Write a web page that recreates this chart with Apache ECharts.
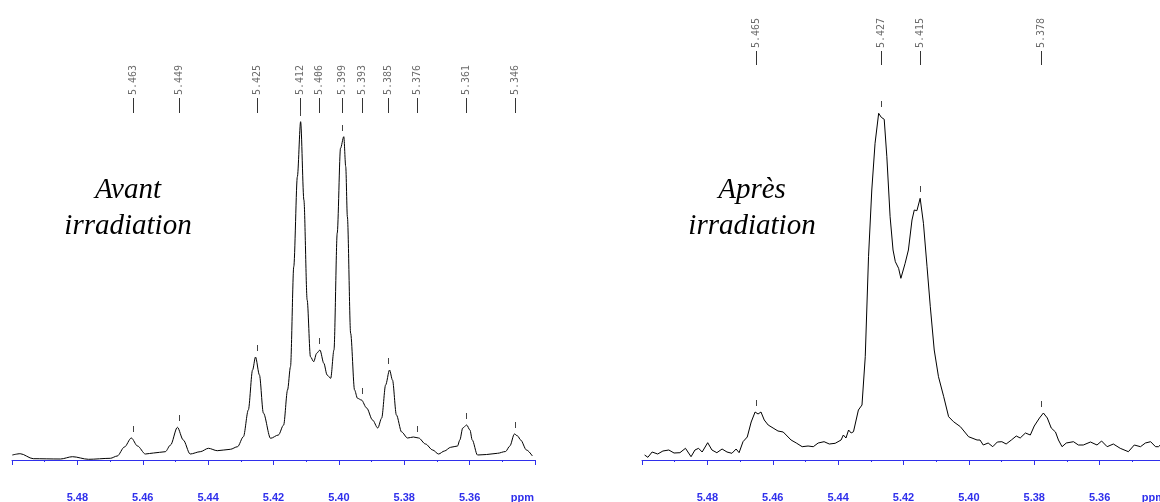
<!DOCTYPE html>
<html>
<head>
<meta charset="utf-8">
<title>RMN 1H - avant / après irradiation</title>
<script src="https://cdn.jsdelivr.net/npm/echarts@6.0.0/dist/echarts.min.js"></script>
<style>
    html, body { margin: 0; padding: 0; background: #fff; }
    #main { width: 1160px; height: 502px; }
</style>
</head>
<body>
<div id="main"></div>
<script>
    // spectre avant irradiation (ppm / intensité, u.a.)
    var beforePpm = [5.4999,5.4975,5.4935,5.4852,5.4815,5.4766,5.4699,5.4678,5.4656,5.4635,
        5.4616,5.4592,5.4567,5.4531,5.4515,5.4494,5.4476,5.4455,5.4424,5.4399,
        5.4372,5.4332,5.4310,5.4292,5.4277,5.4264,5.4255,5.4243,5.4231,5.4209,
        5.4185,5.4169,5.4157,5.4148,5.4138,5.4127,5.4117,5.4107,5.4097,5.4087,
        5.4077,5.4068,5.4058,5.4046,5.4036,5.4025,5.4015,5.4005,5.3995,5.3985,
        5.3979,5.3974,5.3964,5.3952,5.3943,5.3931,5.3915,5.3897,5.3881,5.3869,
        5.3857,5.3845,5.3836,5.3824,5.3808,5.3790,5.3772,5.3756,5.3735,5.3713,
        5.3695,5.3677,5.3658,5.3637,5.3630,5.3621,5.3609,5.3599,5.3592,5.3576,
        5.3548,5.3515,5.3490,5.3477,5.3463,5.3453,5.3444,5.3426,5.3408];
    var beforeInt = [5,6.3,1.3,1,3.3,0.7,1.7,4,13,22,
        14,6,7,8.3,15,32.7,20,6,8.3,11.7,
        9.3,10.7,13.3,23.3,50,90,103,85,47,21.7,
        25,35,70,93.3,193.3,283.3,338.3,260,160,103.3,
        98.3,106.7,110,96.7,85,81.7,110,227,311.7,323.3,
        293.3,243.3,126.7,70,61.7,60,52,40,32,42,
        75,90,80,45,28,22,23,22,16,10,
        6,9,12.7,14,20,32,35,30,20,5,
        5.5,6.7,8.5,14,26,24,20,10,4];
    var beforePeaks = [5.463,5.449,5.425,5.412,5.406,5.399,5.393,5.385,5.376,5.361,5.346];

    // spectre après irradiation
    var afterPpm = [5.4992,5.4982,5.4969,5.4952,5.4936,5.4918,5.4902,5.4884,5.4867,5.4850,
        5.4838,5.4827,5.4816,5.4799,5.4786,5.4771,5.4755,5.4740,5.4725,5.4712,
        5.4703,5.4691,5.4678,5.4666,5.4654,5.4645,5.4636,5.4626,5.4614,5.4599,
        5.4584,5.4568,5.4553,5.4544,5.4528,5.4510,5.4492,5.4476,5.4461,5.4443,
        5.4427,5.4409,5.4391,5.4384,5.4376,5.4368,5.4360,5.4353,5.4338,5.4327,
        5.4317,5.4307,5.4297,5.4287,5.4276,5.4268,5.4259,5.4251,5.4241,5.4232,
        5.4225,5.4215,5.4208,5.4195,5.4185,5.4174,5.4167,5.4159,5.4149,5.4139,
        5.4128,5.4118,5.4106,5.4093,5.4077,5.4062,5.4047,5.4026,5.4001,5.3975,
        5.3966,5.3956,5.3941,5.3927,5.3913,5.3899,5.3886,5.3870,5.3855,5.3843,
        5.3827,5.3812,5.3800,5.3784,5.3772,5.3760,5.3748,5.3735,5.3726,5.3715,
        5.3702,5.3680,5.3665,5.3650,5.3628,5.3608,5.3594,5.3577,5.3558,5.3537,
        5.3512,5.3494,5.3475,5.3460,5.3444,5.3429,5.3420,5.3408];
    var afterInt = [5,2.7,8,6,9,10,7,7.3,11.7,3.3,
        10,11.7,8,17.3,10,7.3,11,8,6.7,11,
        7.3,18.3,23,38,48,46,48,40,35,32,
        29,28,23,20,17,13.3,14,13.3,17,18.3,
        16,16.7,20,25,22,30,27,28.3,50,55,
        103.3,203.3,270,316.7,346.7,342.7,340.7,303.3,243.3,210,
        198.3,191.7,181.7,196.7,210,240,250,249.3,261.7,236.7,
        193.3,153.3,110,83.3,63.3,43.3,38.3,33.3,23.3,20,
        20,15,17,13.3,18,18.3,16,20,24,22,
        27,25,34,42,47,42,32,28,20,13.3,
        17,18.3,15,15,18,15,19,13.3,16,11.7,
        8.3,15,13.3,17,18.3,13.3,13.3,17];
    var afterPeaks = [5.465,5.427,5.415,5.378];

    var axisTicks = [5.48,5.46,5.44,5.42,5.40,5.38,5.36];

    var axisBlue = '#2f2fec';

    function zip(a, b) {
        return a.map(function (v, i) { return [v, b[i]]; });
    }
    var before = zip(beforePpm, beforeInt);
    var after = zip(afterPpm, afterInt);

    // hauteur max du spectre autour d'un pic
    function peakHeight(spec, p) {
        var best = 0;
        for (var i = 0; i < spec.length; i++) {
            if (Math.abs(spec[i][0] - p) < 0.0008 && spec[i][1] > best) best = spec[i][1];
        }
        return best;
    }

    // étiquette verticale + trait + petit repère au-dessus du pic
    function peakLabels(spec, textBottom, lineBottom) {
        return function (params, api) {
            var p = api.value(0);
            var x = Math.round(api.coord([p, 0])[0]) + 0.5;
            var top = api.coord([p, peakHeight(spec, p)])[1];
            return {
                type: 'group',
                children: [
                    {
                        type: 'text', x: x, y: textBottom, rotation: Math.PI / 2,
                        style: {
                            text: p.toFixed(3), font: '10px "DejaVu Sans Mono"', fill: '#6b6b6b',
                            align: 'left', verticalAlign: 'middle'
                        }
                    },
                    {
                        type: 'line', shape: {x1: x, y1: textBottom + 3, x2: x, y2: lineBottom},
                        style: {stroke: '#333', lineWidth: 1}
                    },
                    {
                        type: 'line', shape: {x1: x, y1: Math.round(top) - 12, x2: x, y2: Math.round(top) - 6},
                        style: {stroke: '#444', lineWidth: 1}
                    }
                ]
            };
        };
    }

    function xAxisFor(gridIndex) {
        return {
            type: 'value',
            gridIndex: gridIndex,
            min: 5.34,
            max: 5.50,
            interval: 0.02,
            inverse: true,
            axisLine: {lineStyle: {color: axisBlue, width: 1}},
            axisTick: {length: 5, lineStyle: {color: axisBlue}},
            minorTick: {show: true, splitNumber: 2, length: 2, lineStyle: {color: axisBlue}},
            splitLine: {show: false},
            axisLabel: {
                color: axisBlue, fontWeight: 'bold', fontSize: 11, fontFamily: 'Liberation Sans',
                margin: 10, showMinLabel: false, showMaxLabel: false,
                formatter: function (v) {
                    var s = v.toFixed(2);
                    return axisTicks.some(function (t) { return t.toFixed(2) === s; }) ? s : '';
                }
            }
        };
    }

    function yAxisFor(gridIndex) {
        return {type: 'value', gridIndex: gridIndex, min: -22, max: 378, show: false};
    }

    var titleFont = 'italic 29px "Liberation Serif"';
    var ppmFont = 'bold 11px "Liberation Sans"';

    var chart = echarts.init(document.getElementById('main'));
    chart.setOption({
        animation: false,
        backgroundColor: '#fff',
        grid: [
            {left: 12, top: 82, width: 523, height: 400, containLabel: false, outerBoundsMode: 'none'},
            {left: 642, top: 82, width: 523, height: 400, containLabel: false, outerBoundsMode: 'none'}
        ],
        xAxis: [xAxisFor(0), xAxisFor(1)],
        yAxis: [yAxisFor(0), yAxisFor(1)],
        series: [
            {
                type: 'line', xAxisIndex: 0, yAxisIndex: 0, data: before,
                symbol: 'none', smooth: 0.3, smoothMonotone: 'x', silent: true,
                lineStyle: {color: '#000', width: 1}
            },
            {
                type: 'line', xAxisIndex: 1, yAxisIndex: 1, data: after,
                symbol: 'none', silent: true,
                lineStyle: {color: '#000', width: 1}
            },
            {
                type: 'custom', xAxisIndex: 0, yAxisIndex: 0, silent: true,
                data: beforePeaks.map(function (p) { return [p, 0]; }),
                renderItem: peakLabels(before, 95, 113)
            },
            {
                type: 'custom', xAxisIndex: 1, yAxisIndex: 1, silent: true,
                data: afterPeaks.map(function (p) { return [p, 0]; }),
                renderItem: peakLabels(after, 48, 65)
            }
        ],
        graphic: [
            {type: 'text', x: 128, y: 190, style: {text: 'Avant', font: titleFont, fill: '#000', align: 'center', verticalAlign: 'middle'}},
            {type: 'text', x: 128, y: 226, style: {text: 'irradiation', font: titleFont, fill: '#000', align: 'center', verticalAlign: 'middle'}},
            {type: 'text', x: 752, y: 190, style: {text: 'Après', font: titleFont, fill: '#000', align: 'center', verticalAlign: 'middle'}},
            {type: 'text', x: 752, y: 226, style: {text: 'irradiation', font: titleFont, fill: '#000', align: 'center', verticalAlign: 'middle'}},
            {type: 'text', x: 534, y: 498, style: {text: 'ppm', font: ppmFont, fill: axisBlue, align: 'right', verticalAlign: 'middle'}},
            {type: 'text', x: 1165, y: 498, style: {text: 'ppm', font: ppmFont, fill: axisBlue, align: 'right', verticalAlign: 'middle'}}
        ]
    });
</script>
</body>
</html>
